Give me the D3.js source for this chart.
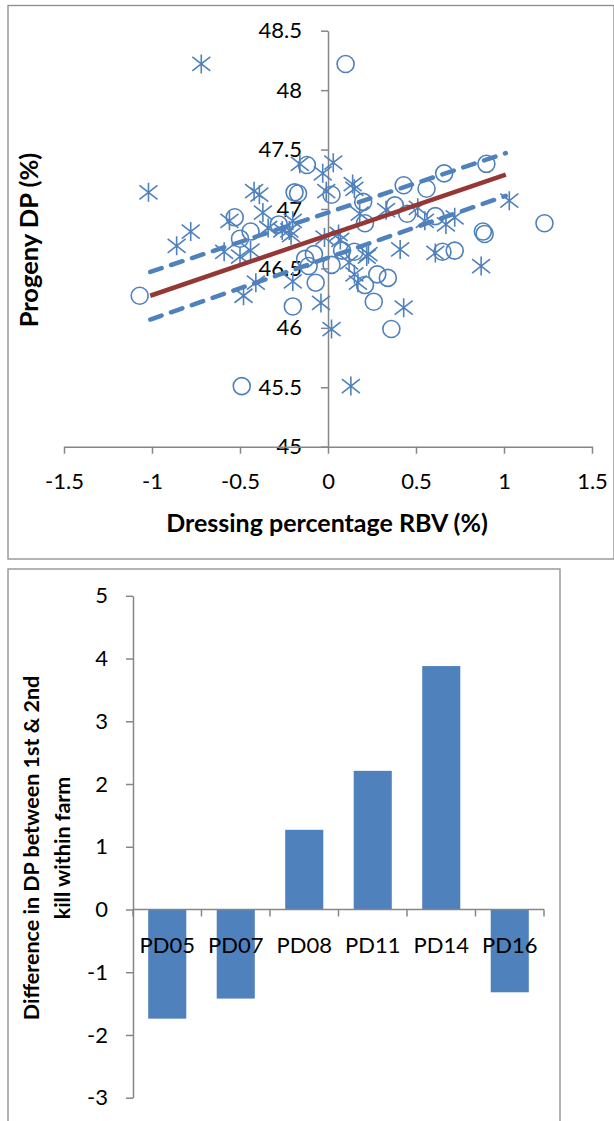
<!DOCTYPE html>
<html><head><meta charset="utf-8">
<script src="https://cdn.jsdelivr.net/npm/d3@7/dist/d3.min.js"></script>
<style>
html,body{margin:0;padding:0;background:#fff;}
text{font-family:Lato, "Open Sans", sans-serif;fill:#000;}
</style></head>
<body>
<svg id="c" width="614" height="1121"></svg>
<script>
// ---------- Data: scatter ----------
const circleX = [0.10,-1.07,-0.49,-0.12,-0.19,-0.17,0.02,0.43,0.56,0.66,0.90,1.23,0.88,0.89,0.72,0.65,0.61,0.45,0.38,0.20,0.21,0.34,0.28,0.26,0.36,0.21,0.15,0.02,-0.08,-0.11,-0.07,-0.20,-0.53,-0.44,-0.50,-0.28,0.08,-0.13];
const circleY = [48.22,46.27,45.51,47.37,47.14,47.13,47.12,47.20,47.17,47.30,47.38,46.88,46.81,46.79,46.65,46.64,46.94,46.96,47.03,47.06,46.88,46.42,46.45,46.22,45.99,46.36,46.64,46.53,46.62,46.52,46.38,46.18,46.93,46.81,46.75,46.87,46.65,46.58];
const starX = [-0.72,-1.02,-0.86,-0.78,-0.59,-0.56,-0.50,-0.48,-0.42,-0.39,-0.41,-0.37,-0.34,-0.44,-0.22,-0.21,-0.20,-0.16,-0.03,0.03,-0.01,-0.04,0.02,0.13,0.14,0.15,0.15,0.17,0.23,0.33,0.41,0.43,0.55,0.61,0.67,0.72,0.87,1.03,0.18,0.51,0.06,-0.02,0.22,-0.26,-0.20,0.07,0.12];
const starY = [48.22,47.14,46.69,46.81,46.64,46.90,46.60,46.27,47.15,47.12,46.38,46.97,46.84,46.65,46.82,46.78,46.39,47.38,47.30,47.39,47.15,46.21,45.99,45.51,47.21,47.17,46.45,46.38,46.62,46.99,46.66,46.17,46.90,46.63,46.87,46.93,46.52,47.07,46.96,47.01,46.79,46.76,46.60,46.82,46.90,46.74,46.55];
const fitX = [-1.01, 1.01];
const fitY = [46.27, 47.29];
const upperY = [46.47, 47.47];
const lowerY = [46.07, 47.11];
const scatterXTicks = [-1.5,-1,-0.5,0,0.5,1,1.5];
const scatterYTicks = [45,45.5,46,46.5,47,47.5,48,48.5];

// ---------- Data: bars ----------
const farms = ["PD05","PD07","PD08","PD11","PD14","PD16"];
const diffs = [-1.74,-1.42,1.27,2.21,3.88,-1.32];
const barYTicks = [-3,-2,-1,0,1,2,3,4,5];

const blue = "#4F81BD", red = "#953735", axisCol = "#868686", frameCol = "#8c8c8c";
const svg = d3.select("#c");
svg.append("rect").attr("width",614).attr("height",1121).attr("fill","#fff");

// frames
svg.append("rect").attr("x",8).attr("y",5.5).attr("width",606).attr("height",553.5)
  .attr("fill","none").attr("stroke",frameCol).attr("stroke-width",1.3);
svg.append("rect").attr("x",8).attr("y",569).attr("width",552).attr("height",560)
  .attr("fill","none").attr("stroke",frameCol).attr("stroke-width",1.3);

// ---------- Scatter ----------
const x = d3.scaleLinear().domain([-1.5,1.5]).range([64,592]);
const y = d3.scaleLinear().domain([45,48.5]).range([446.7,30.7]);
const fmt = d => String(d);

const yAx = svg.append("g").attr("transform",`translate(${x(0)},0)`)
  .call(d3.axisLeft(y).tickValues(scatterYTicks).tickFormat(fmt).tickSize(7).tickPadding(19).tickSizeOuter(0));
const xAx = svg.append("g").attr("transform",`translate(0,${y(45)})`)
  .call(d3.axisBottom(x).tickValues(scatterXTicks).tickFormat(fmt).tickSize(7).tickSizeOuter(0));
xAx.selectAll("text").attr("y",35).attr("dy","0.35em");
[yAx,xAx].forEach(g=>{
  g.select(".domain").attr("stroke",axisCol).attr("stroke-width",1.5);
  g.selectAll(".tick line").attr("stroke",axisCol).attr("stroke-width",1.5);
  g.selectAll("text").attr("font-size",22).attr("font-family","Lato").attr("fill","#000");
});

// markers
const circles = circleX.map((v,i)=>({x:v,y:circleY[i]}));
const stars = starX.map((v,i)=>({x:v,y:starY[i]}));
svg.append("g").selectAll("circle").data(circles).join("circle")
  .attr("cx",d=>x(d.x)).attr("cy",d=>y(d.y)).attr("r",8.5)
  .attr("fill","none").attr("stroke",blue).attr("stroke-width",1.6);
const starPath = "M0,-9.5L0,9.5M-9,-7L9,7M-9,7L9,-7";
svg.append("g").selectAll("path").data(stars).join("path")
  .attr("transform",d=>`translate(${x(d.x)},${y(d.y)})`).attr("d",starPath)
  .attr("fill","none").attr("stroke",blue).attr("stroke-width",1.6);

// fit lines
const line = d3.line().x(d=>x(d[0])).y(d=>y(d[1]));
const mk = ys => fitX.map((v,i)=>[v,ys[i]]);
svg.append("path").attr("d",line(mk(upperY))).attr("fill","none").attr("stroke",blue)
  .attr("stroke-width",4.5).attr("stroke-dasharray","12,10").attr("stroke-linecap","round");
svg.append("path").attr("d",line(mk(lowerY))).attr("fill","none").attr("stroke",blue)
  .attr("stroke-width",4.5).attr("stroke-dasharray","12,10").attr("stroke-linecap","round");
svg.append("path").attr("d",line(mk(fitY))).attr("fill","none").attr("stroke",red)
  .attr("stroke-width",4.5);

// titles
svg.append("text").attr("x",327).attr("y",523).attr("dy","0.35em").attr("text-anchor","middle")
  .attr("font-size",25).attr("font-weight","bold").text("Dressing percentage RBV (%)");
svg.append("text").attr("transform","translate(29,240) rotate(-90)").attr("dy","0.35em")
  .attr("text-anchor","middle").attr("font-size",25.5).attr("font-weight","bold").text("Progeny DP (%)");

// ---------- Bars ----------
const yb = d3.scaleLinear().domain([-3,5]).range([1097.7,595.8]);
const xb = d3.scaleBand().domain(farms).range([133,544]).paddingInner(0.444).paddingOuter(0.222);
const step = xb.step();

svg.append("g").selectAll("rect").data(farms).join("rect")
  .attr("x",(d)=>xb(d)).attr("width",xb.bandwidth())
  .attr("y",(d,i)=>yb(Math.max(0,diffs[i])))
  .attr("height",(d,i)=>Math.abs(yb(diffs[i])-yb(0)))
  .attr("fill",blue);

const ybAx = svg.append("g").attr("transform","translate(133,0)")
  .call(d3.axisLeft(yb).tickValues(barYTicks).tickFormat(fmt).tickSize(7).tickPadding(18).tickSizeOuter(0));
ybAx.select(".domain").attr("stroke",axisCol).attr("stroke-width",1.5);
ybAx.selectAll(".tick line").attr("stroke",axisCol).attr("stroke-width",1.5);
ybAx.selectAll("text").attr("font-size",22).attr("font-family","Lato").attr("fill","#000");

// category axis at zero
const gx = svg.append("g");
gx.append("line").attr("x1",133).attr("x2",544).attr("y1",yb(0)).attr("y2",yb(0))
  .attr("stroke",axisCol).attr("stroke-width",1.5);
const bounds = farms.map(d=>xb(d) - xb.paddingOuter()*step).concat([544]);
gx.selectAll("line.t").data(bounds).join("line").attr("class","t")
  .attr("x1",d=>d).attr("x2",d=>d).attr("y1",yb(0)).attr("y2",yb(0)+7)
  .attr("stroke",axisCol).attr("stroke-width",1.5);
gx.selectAll("text").data(farms).join("text")
  .attr("x",d=>xb(d)+xb.bandwidth()/2).attr("y",yb(0)+36).attr("dy","0.35em")
  .attr("text-anchor","middle").attr("font-size",22).text(d=>d);

// bar y title (two lines)
const bt = svg.append("text").attr("transform","translate(47,848) rotate(-90)")
  .attr("text-anchor","middle").attr("font-size",21.5).attr("font-weight","bold");
bt.append("tspan").attr("x",0).attr("y",-15.5).attr("dy","0.35em").text("Difference in DP between 1st & 2nd");
bt.append("tspan").attr("x",0).attr("y",15.5).attr("dy","0.35em").text("kill within farm");
</script>
</body></html>
